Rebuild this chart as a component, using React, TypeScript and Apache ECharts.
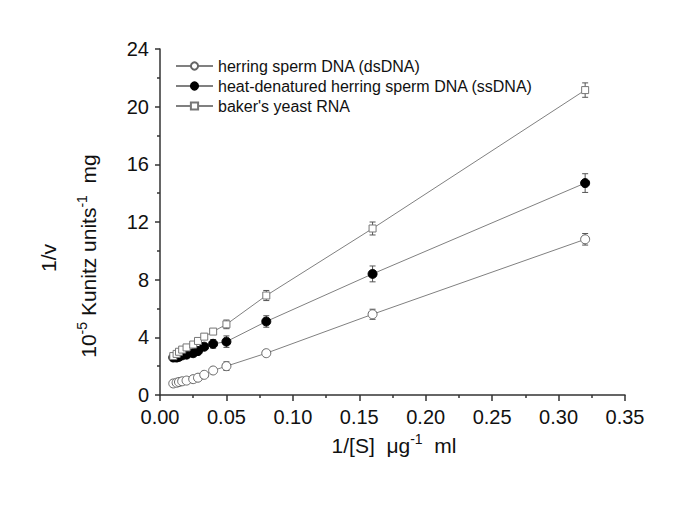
import React, { useEffect, useRef } from "react";
import * as echarts from "echarts";

const xValues = [0.01, 0.0125, 0.0143, 0.0167, 0.02, 0.025, 0.0286, 0.0333, 0.04, 0.05, 0.08, 0.16, 0.32];
const dsY = [0.8, 0.85, 0.9, 0.95, 1.0, 1.1, 1.2, 1.4, 1.7, 2.0, 2.9, 5.6, 10.8];
const dsErr = [0.12, 0.12, 0.12, 0.12, 0.12, 0.12, 0.15, 0.15, 0.15, 0.3, 0.2, 0.35, 0.4];
const ssY = [2.6, 2.6, 2.65, 2.75, 2.8, 2.9, 3.05, 3.35, 3.55, 3.7, 5.1, 8.4, 14.7];
const ssErr = [0.15, 0.15, 0.15, 0.15, 0.15, 0.15, 0.15, 0.2, 0.3, 0.4, 0.4, 0.55, 0.65];
const rnaY = [2.7, 2.85, 3.0, 3.15, 3.3, 3.5, 3.75, 4.05, 4.4, 4.9, 6.9, 11.55, 21.15];
const rnaErr = [0.12, 0.12, 0.12, 0.12, 0.12, 0.15, 0.15, 0.2, 0.2, 0.3, 0.35, 0.45, 0.5];
const seriesNames = [
  "herring sperm DNA (dsDNA)",
  "heat-denatured herring sperm DNA (ssDNA)",
  "baker's yeast RNA",
];

const FONT = "Liberation Sans, Arial, sans-serif";

function errData(ys: number[], es: number[]) {
  return xValues.map((x, i) => [x, ys[i] - es[i], ys[i] + es[i]]);
}

function pts(ys: number[]) {
  return xValues.map((x, i) => [x, ys[i]]);
}

const errRender = (params: any, api: any) => {
  const x = api.value(0);
  const lo = api.coord([x, api.value(1)]);
  const hi = api.coord([x, api.value(2)]);
  const w = 3;
  const style = { stroke: "#555", lineWidth: 1 };
  return {
    type: "group",
    children: [
      { type: "line", shape: { x1: lo[0], y1: lo[1], x2: hi[0], y2: hi[1] }, style },
      { type: "line", shape: { x1: lo[0] - w, y1: lo[1], x2: lo[0] + w, y2: lo[1] }, style },
      { type: "line", shape: { x1: hi[0] - w, y1: hi[1], x2: hi[0] + w, y2: hi[1] }, style },
    ],
  };
};

export default function App() {
  const ref = useRef<HTMLDivElement>(null);
  useEffect(() => {
    if (!ref.current) return;
    const chart = echarts.init(ref.current, undefined, { renderer: "svg" });
    const lineStyle = { color: "#808080", width: 1 };
    const rich = {
      n: { fontFamily: FONT, fontSize: 21, fill: "#111" },
      s: { fontFamily: FONT, fontSize: 14, fill: "#111", padding: [0, 0, 12, 0] },
    };
    chart.setOption({
      animation: false,
      backgroundColor: "#fff",
      grid: { left: 160, top: 49, right: 60, bottom: 111, containLabel: false },
      legend: {
        data: seriesNames,
        orient: "vertical",
        left: 175,
        top: 58,
        padding: 0,
        itemWidth: 37,
        itemHeight: 9,
        itemGap: 4,
        textStyle: { fontFamily: FONT, fontSize: 16, color: "#111" },
      },
      xAxis: {
        type: "value",
        min: 0,
        max: 0.35,
        interval: 0.05,
        axisLine: { show: true, onZero: false, lineStyle: { color: "#333", width: 1.5 } },
        axisTick: { show: true, inside: false, length: 6, lineStyle: { color: "#333", width: 1.5 } },
        minorTick: { show: true, splitNumber: 2, length: 3, lineStyle: { color: "#333", width: 1.5 } },
        splitLine: { show: false },
        axisLabel: {
          fontFamily: FONT,
          fontSize: 20,
          color: "#111",
          margin: 12,
          formatter: (v: number) => v.toFixed(2),
        },
      },
      yAxis: {
        type: "value",
        min: 0,
        max: 24,
        interval: 4,
        axisLine: { show: true, onZero: false, lineStyle: { color: "#333", width: 1.5 } },
        axisTick: { show: true, inside: false, length: 5, lineStyle: { color: "#333", width: 1.5 } },
        minorTick: { show: true, splitNumber: 2, length: 3, lineStyle: { color: "#333", width: 1.5 } },
        splitLine: { show: false },
        axisLabel: { fontFamily: FONT, fontSize: 20, color: "#111", margin: 11 },
      },
      graphic: [
        {
          type: "text",
          x: 394,
          y: 445,
          style: {
            text: "{n|1/[S]  μg}{s|-1}{n|  ml}",
            fontFamily: FONT,
            align: "center",
            verticalAlign: "middle",
            rich,
          },
        },
        {
          type: "text",
          x: 48,
          y: 258,
          rotation: Math.PI / 2,
          style: {
            text: "1/v",
            fontFamily: FONT,
            fontSize: 21,
            fill: "#111",
            align: "center",
            verticalAlign: "middle",
          },
        },
        {
          type: "text",
          x: 88,
          y: 256,
          rotation: Math.PI / 2,
          style: {
            text: "{n|10}{s|-5}{n| Kunitz units}{s|-1}{n|  mg}",
            fontFamily: FONT,
            align: "center",
            verticalAlign: "middle",
            rich,
          },
        },
      ],
      series: [
        { type: "custom", renderItem: errRender, data: errData(dsY, dsErr), z: 1, silent: true },
        { type: "custom", renderItem: errRender, data: errData(ssY, ssErr), z: 1, silent: true },
        { type: "custom", renderItem: errRender, data: errData(rnaY, rnaErr), z: 1, silent: true },
        {
          name: seriesNames[0],
          type: "line",
          data: pts(dsY),
          symbol: "circle",
          symbolSize: 9,
          showAllSymbol: true,
          lineStyle,
          itemStyle: { color: "#fff", borderColor: "#666", borderWidth: 1 },
          z: 3,
        },
        {
          name: seriesNames[1],
          type: "line",
          data: pts(ssY),
          symbol: "circle",
          symbolSize: 9,
          showAllSymbol: true,
          lineStyle,
          itemStyle: { color: "#000", borderColor: "#000", borderWidth: 1 },
          z: 3,
        },
        {
          name: seriesNames[2],
          type: "line",
          data: pts(rnaY),
          symbol: "rect",
          symbolSize: 7,
          showAllSymbol: true,
          lineStyle,
          itemStyle: { color: "#fff", borderColor: "#777", borderWidth: 1 },
          z: 3,
        },
      ],
    });
    return () => chart.dispose();
  }, []);
  return (
    <div
      ref={ref}
      style={{ position: "fixed", left: 0, top: 0, width: 685, height: 506 }}
    />
  );
}
